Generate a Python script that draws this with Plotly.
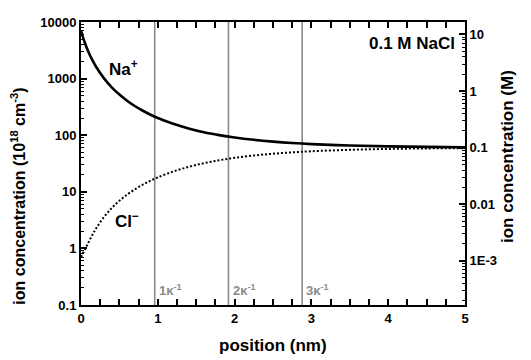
import plotly.graph_objects as go

# position (nm)
position = [0, 0.05, 0.1, 0.15, 0.2, 0.3, 0.4, 0.5, 0.6, 0.7, 0.8, 0.9, 1.0,
            1.2, 1.4, 1.6, 1.8, 2.0, 2.25, 2.5, 2.75, 3.0, 3.5, 4.0, 4.5, 5.0]
# ion concentrations (10^18 cm^-3)
na_conc = [7000, 4300, 2891, 2091, 1586, 1008, 702, 522, 407, 328, 273, 232, 201,
           159, 132, 113, 100.4, 91.1, 82.9, 77.0, 72.7, 69.6, 65.6, 63.4, 62.1, 61.3]
cl_conc = [0.7, 0.95, 1.3, 1.75, 2.29, 3.60, 5.16, 6.94, 8.91, 11.0, 13.3, 15.6, 18.0,
           22.8, 27.5, 32.0, 36.1, 39.8, 43.7, 47.1, 49.8, 52.0, 55.2, 57.2, 58.4, 59.1]
# Debye length multiples (nm)
debye_pos = [0.96, 1.92, 2.88]
debye_labels = ["<b>1κ<sup>-1</sup></b>", "<b>2κ<sup>-1</sup></b>", "<b>3κ<sup>-1</sup></b>"]

x_ticks = [0, 1, 2, 3, 4, 5]
y_left_ticks = [0.1, 1, 10, 100, 1000, 10000]
y_left_text = ["0.1", "1", "10", "100", "1000", "10000"]
y_right_ticks = [0.001, 0.01, 0.1, 1, 10]
y_right_text = ["1E-3", "0.01", "0.1", "1", "10"]

left_minor = [m * 10 ** e for e in range(-1, 4) for m in range(2, 10)]
right_minor = [m * 10 ** e for e in range(-4, 2) for m in range(2, 10)]

FONT = "Liberation Sans, Arial, sans-serif"
GRAY = "#8a8a8a"

fig = go.Figure()

for xv in debye_pos:
    fig.add_trace(go.Scatter(x=[xv, xv], y=[0.1, 10000], mode="lines",
                             line=dict(color=GRAY, width=1.6), showlegend=False,
                             hoverinfo="skip"))

fig.add_trace(go.Scatter(x=position, y=na_conc, mode="lines", line_shape="spline",
                         line=dict(color="black", width=2.6), showlegend=False))
fig.add_trace(go.Scatter(x=position, y=cl_conc, mode="lines", line_shape="spline",
                         line=dict(color="black", width=2, dash="2px,2px"),
                         showlegend=False))
fig.add_trace(go.Scatter(x=[None], y=[None], yaxis="y2", showlegend=False))

for xv, lab in zip(debye_pos, debye_labels):
    fig.add_annotation(x=xv + 0.03, y=-0.74, xref="x", yref="y", text=lab,
                       showarrow=False, xanchor="left", yanchor="middle",
                       font=dict(family=FONT, size=13, color=GRAY))

fig.add_annotation(x=0.34, y=3.19, xref="x", yref="y", text="<b>Na<sup>+</sup></b>",
                   showarrow=False, xanchor="left", yanchor="middle",
                   font=dict(family=FONT, size=17, color="black"))
fig.add_annotation(x=0.42, y=0.5, xref="x", yref="y", text="<b>Cl<sup>−</sup></b>",
                   showarrow=False, xanchor="left", yanchor="middle",
                   font=dict(family=FONT, size=17, color="black"))
fig.add_annotation(x=4.9, y=3.62, xref="x", yref="y", text="<b>0.1 M NaCl</b>",
                   showarrow=False, xanchor="right", yanchor="middle",
                   font=dict(family=FONT, size=17, color="black"))

# axis titles as annotations for precise placement
fig.add_annotation(x=-0.164, y=0.383, xref="paper", yref="paper", textangle=-90,
                   text="<b>ion concentration (10<sup>18</sup> cm<sup>-3</sup>)</b>",
                   showarrow=False, xanchor="center", yanchor="middle",
                   font=dict(family=FONT, size=16, color="black"))
fig.add_annotation(x=1.112, y=0.523, xref="paper", yref="paper", textangle=-90,
                   text="<b>ion concentration (M)</b>",
                   showarrow=False, xanchor="center", yanchor="middle",
                   font=dict(family=FONT, size=17, color="black"))
fig.add_annotation(x=0.499, y=-0.142, xref="paper", yref="paper",
                   text="<b>position (nm)</b>",
                   showarrow=False, xanchor="center", yanchor="middle",
                   font=dict(family=FONT, size=17, color="black"))

axis_common = dict(showgrid=False, zeroline=False, showline=True, linecolor="black",
                   linewidth=2, ticks="inside", tickcolor="black", tickwidth=1.5,
                   automargin=False,
                   tickfont=dict(family=FONT, size=13, color="black", weight="bold"))

# page body has an 8px default margin; compensate so the plot sits as in the reference
fig.update_layout(
    width=523, height=352,
    margin=dict(l=73, r=66, t=14, b=55),
    paper_bgcolor="white", plot_bgcolor="white",
    xaxis=dict(range=[0, 5], tickvals=x_ticks, ticklen=6, mirror="allticks",
               minor=dict(dtick=0.25, ticks="inside", ticklen=3, tickcolor="black"),
               **axis_common),
    yaxis=dict(type="log", range=[-1, 4], tickvals=y_left_ticks, ticktext=y_left_text,
               ticklen=6,
               minor=dict(tickvals=left_minor, ticks="inside", ticklen=3,
                          tickcolor="black", tickwidth=1),
               **axis_common),
    yaxis2=dict(type="log", range=[-3.78, 1.22], overlaying="y", side="right",
                anchor="x", tickvals=y_right_ticks, ticktext=y_right_text, ticklen=6,
                minor=dict(tickvals=right_minor, ticks="inside", ticklen=3,
                           tickcolor="black", tickwidth=1),
                **axis_common),
)

fig.write_html("out.html")
